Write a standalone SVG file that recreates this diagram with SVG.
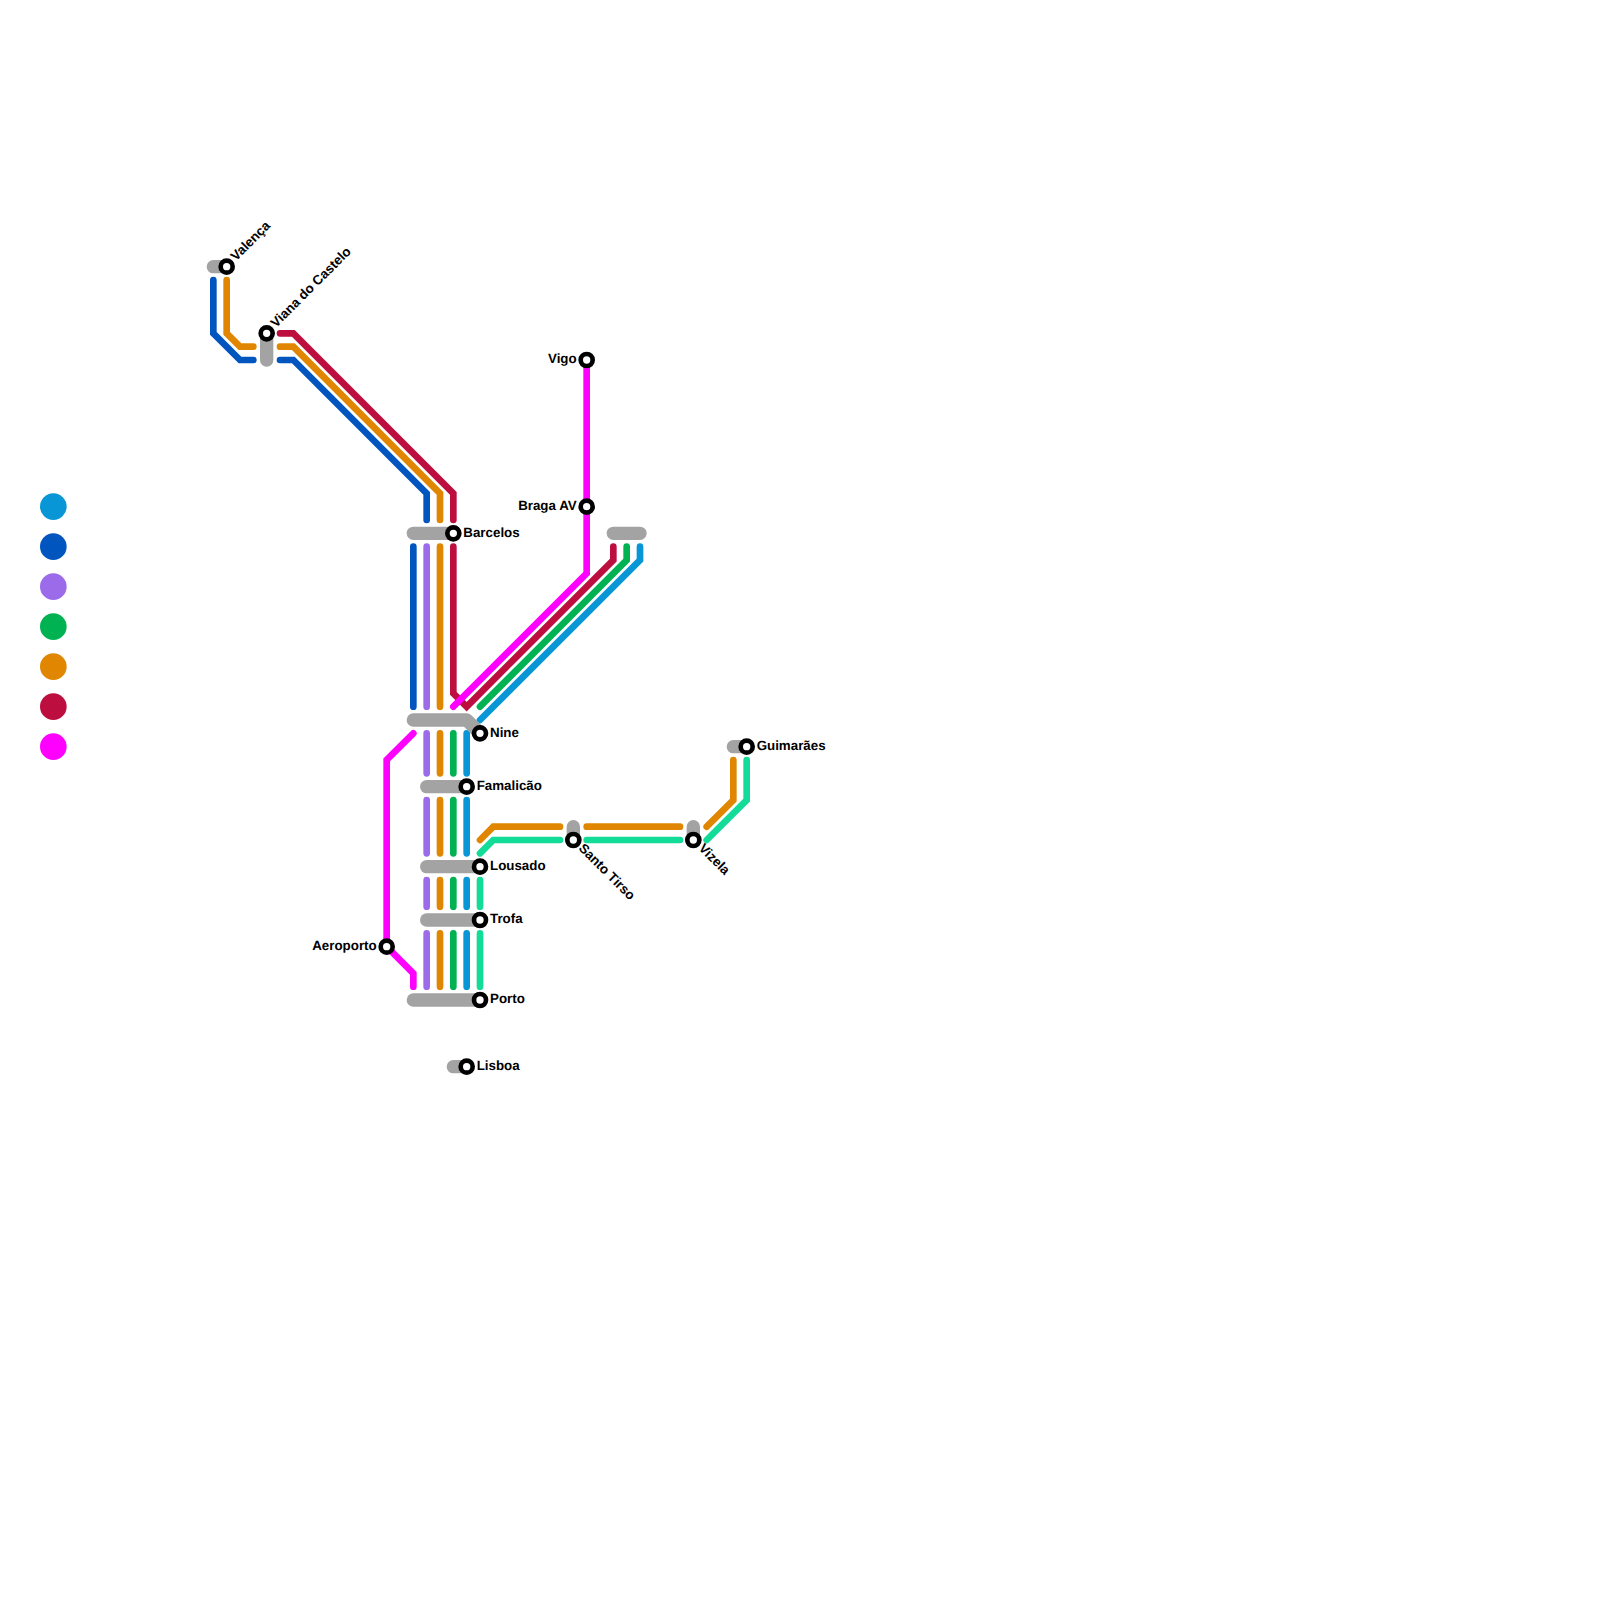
<svg xmlns="http://www.w3.org/2000/svg" width="1600" height="1600" viewBox="0 0 1600 1600">
<style>
.l{fill:none;stroke-width:6.67;stroke-linecap:round;stroke-linejoin:miter}
.g{fill:none;stroke:#a3a3a3;stroke-width:13.33;stroke-linecap:round;stroke-linejoin:round}
.s{fill:#fff;stroke:#000;stroke-width:4.67}
.t{font-family:"Liberation Sans",Arial,sans-serif;font-weight:700;font-size:13.33px;fill:#000;text-rendering:geometricPrecision}
.e{text-anchor:end}
.lb{stroke:#0896d7}.b{stroke:#0055bf}.p{stroke:#9b6bea}.gr{stroke:#00b251}.o{stroke:#e08600}.r{stroke:#bc0e3f}.m{stroke:#ff00ff}.te{stroke:#12dc98}
</style>
<rect width="1600" height="1600" fill="#fff"/>
<g id="legend">
<circle cx="53.33" cy="506.67" r="13.33" fill="#0896d7"/>
<circle cx="53.33" cy="546.67" r="13.33" fill="#0055bf"/>
<circle cx="53.33" cy="586.67" r="13.33" fill="#9b6bea"/>
<circle cx="53.33" cy="626.67" r="13.33" fill="#00b251"/>
<circle cx="53.33" cy="666.67" r="13.33" fill="#e08600"/>
<circle cx="53.33" cy="706.67" r="13.33" fill="#bc0e3f"/>
<circle cx="53.33" cy="746.67" r="13.33" fill="#ff00ff"/>
</g>
<g id="connectors">
<path class="l b" d="M213.33 280V333.33L240 360H253.33"/>
<path class="l o" d="M226.67 280V333.33L240 346.67H253.33"/>
<path class="l r" d="M280 333.33H293.33L453.33 493.33V520"/>
<path class="l o" d="M280 346.67H293.33L440 493.33V520"/>
<path class="l b" d="M280 360H293.33L426.67 493.33V520"/>
<path class="l b" d="M413.33 546.67V706.67"/>
<path class="l p" d="M426.67 546.67V706.67"/>
<path class="l o" d="M440 546.67V706.67"/>
<path class="l r" d="M453.33 546.67V693.33L466.67 706.67L613.33 560V546.67"/>
<path class="l gr" d="M480 706.67L626.67 560V546.67"/>
<path class="l lb" d="M480 720L640 560V546.67"/>
<path class="l m" d="M586.67 360V573.33L453.33 706.67"/>
<path class="l m" d="M413.33 733.33L386.67 760V946.67L413.33 973.33V986.67"/>
<path class="l p" d="M426.67 733.33V773.33M426.67 800V853.33M426.67 880V906.67M426.67 933.33V986.67"/>
<path class="l o" d="M440 733.33V773.33M440 800V853.33M440 880V906.67M440 933.33V986.67"/>
<path class="l gr" d="M453.33 733.33V773.33M453.33 800V853.33M453.33 880V906.67M453.33 933.33V986.67"/>
<path class="l lb" d="M466.67 733.33V773.33M466.67 800V853.33M466.67 880V906.67M466.67 933.33V986.67"/>
<path class="l te" d="M480 880V906.67M480 933.33V986.67"/>
<path class="l o" d="M480 840L493.33 826.67H560M586.67 826.67H680M706.67 826.67L733.33 800V760"/>
<path class="l te" d="M480 853.33L493.33 840H560M586.67 840H680M706.67 840L746.67 800V760"/>
</g>
<g id="valenca"><path class="g" d="M213.33 266.67H226.67"/><circle class="s" cx="226.67" cy="266.67" r="6"/><text class="t" transform="translate(235.9 261.6) rotate(-45)">Valença</text></g>
<g id="viana"><path class="g" d="M266.67 333.33V360"/><circle class="s" cx="266.67" cy="333.33" r="6"/><text class="t" transform="translate(275.9 328.2) rotate(-45)">Viana do Castelo</text></g>
<g id="barcelos"><path class="g" d="M413.33 533.33H453.33"/><circle class="s" cx="453.33" cy="533.33" r="6"/><text class="t" x="463.33" y="536.6">Barcelos</text></g>
<g id="vigo"><circle class="s" cx="586.67" cy="360" r="6"/><text class="t e" x="576.67" y="363.3">Vigo</text></g>
<g id="braga"><circle class="s" cx="586.67" cy="506.67" r="6"/><text class="t e" x="576.67" y="509.9">Braga AV</text></g>
<g id="braga-platform"><path class="g" d="M613.33 533.33H640"/></g>
<g id="nine"><path class="g" d="M413.33 720H466.67L480 733.33"/><circle class="s" cx="480" cy="733.33" r="6"/><text class="t" x="490" y="736.6">Nine</text></g>
<g id="famalicao"><path class="g" d="M426.67 786.67H466.67"/><circle class="s" cx="466.67" cy="786.67" r="6"/><text class="t" x="476.67" y="789.9">Famalicão</text></g>
<g id="lousado"><path class="g" d="M426.67 866.67H480"/><circle class="s" cx="480" cy="866.67" r="6"/><text class="t" x="490" y="869.9">Lousado</text></g>
<g id="trofa"><path class="g" d="M426.67 920H480"/><circle class="s" cx="480" cy="920" r="6"/><text class="t" x="490" y="923.3">Trofa</text></g>
<g id="porto"><path class="g" d="M413.33 1000H480"/><circle class="s" cx="480" cy="1000" r="6"/><text class="t" x="490" y="1003.3">Porto</text></g>
<g id="lisboa"><path class="g" d="M453.33 1066.67H466.67"/><circle class="s" cx="466.67" cy="1066.67" r="6"/><text class="t" x="476.67" y="1069.9">Lisboa</text></g>
<g id="aeroporto"><circle class="s" cx="386.67" cy="946.67" r="6"/><text class="t e" x="376.67" y="949.9">Aeroporto</text></g>
<g id="santo-tirso"><path class="g" d="M573.33 826.67V840"/><circle class="s" cx="573.33" cy="840" r="6"/><text class="t" transform="translate(578 849) rotate(45)">Santo Tirso</text></g>
<g id="vizela"><path class="g" d="M693.33 826.67V840"/><circle class="s" cx="693.33" cy="840" r="6"/><text class="t" transform="translate(698 849) rotate(45)">Vizela</text></g>
<g id="guimaraes"><path class="g" d="M733.33 746.67H746.67"/><circle class="s" cx="746.67" cy="746.67" r="6"/><text class="t" x="756.67" y="749.9">Guimarães</text></g>
</svg>
